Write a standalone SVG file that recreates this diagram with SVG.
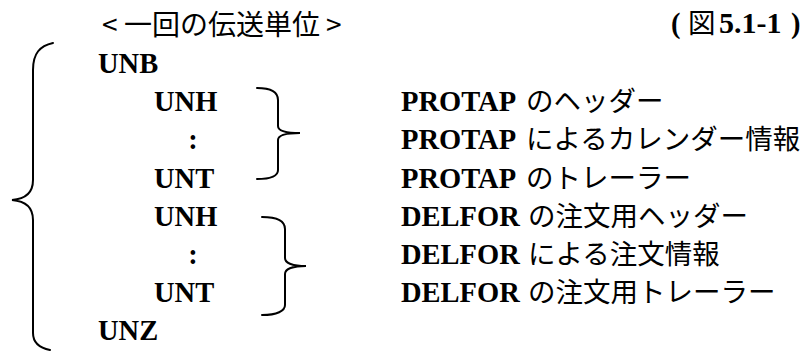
<svg xmlns="http://www.w3.org/2000/svg" width="806" height="352" viewBox="0 0 806 352">
<style>
text{fill:#000;font-size:28.5px}
.l{font-family:"Liberation Serif","Times New Roman",serif;font-weight:bold}
.j{font-family:"Noto Sans CJK JP","Noto Sans",sans-serif;font-weight:normal;font-size:27.5px}
.t{font-family:"Noto Sans CJK JP","Noto Sans",sans-serif;font-weight:normal;font-size:28px}
.b{fill:none;stroke:#000;stroke-width:2;stroke-linecap:round}
</style>
<rect width="806" height="352" fill="#fff"/>
<g id="title">
<text y="35" class="t"><tspan x="102">&lt;</tspan><tspan x="124">一回の伝送単位</tspan><tspan x="326">&gt;</tspan></text>
</g>
<g id="figno">
<text y="33" class="l"><tspan x="671">(</tspan><tspan x="688" class="j" font-size="26">図</tspan><tspan x="719" font-size="30">5.1-1</tspan><tspan x="791">)</tspan></text>
</g>
<g id="unb"><text x="98" y="72.5" class="l">UNB</text></g>
<g id="unh1"><text x="154" y="111" class="l">UNH</text></g>
<g id="dots1"><text x="193" y="149" class="l" text-anchor="middle">:</text></g>
<g id="unt1"><text x="154" y="187.5" class="l">UNT</text></g>
<g id="unh2"><text x="154" y="225.5" class="l">UNH</text></g>
<g id="dots2"><text x="193" y="263.5" class="l" text-anchor="middle">:</text></g>
<g id="unt2"><text x="154" y="301.5" class="l">UNT</text></g>
<g id="unz"><text x="98" y="340" class="l">UNZ</text></g>
<g id="p1"><text x="401" y="111" class="l">PROTAP<tspan x="526" class="j">のヘッダー</tspan></text></g>
<g id="p2"><text x="401" y="149" class="l">PROTAP<tspan x="526" class="j">によるカレンダー情報</tspan></text></g>
<g id="p3"><text x="401" y="187.5" class="l">PROTAP<tspan x="526" class="j">のトレーラー</tspan></text></g>
<g id="d1"><text x="401" y="225.5" class="l">DELFOR<tspan x="528" class="j">の注文用ヘッダー</tspan></text></g>
<g id="d2"><text x="401" y="263.5" class="l">DELFOR<tspan x="528" class="j">による注文情報</tspan></text></g>
<g id="d3"><text x="401" y="301.5" class="l">DELFOR<tspan x="528" class="j">の注文用トレーラー</tspan></text></g>
<g id="connectors">
<path class="b" d="M53,43 C40,46 33,53 33,70 L33,180 C33,193 25,199 12,200 C25,201 33,207 33,220 L33,333 C33,343 40,348 50,350"/>
<path class="b" d="M257,88 C271,88 278,92 278,100 L278,126 C278,131 286,133 300,133 C286,133 278,135 278,140 L278,170 C278,176 270,179 257,179"/>
<path class="b" d="M262,217 C277,217 285,221 285,229 L285,258 C285,263 293,266 306,266 C293,266 285,269 285,274 L285,305 C285,311 277,315 262,315"/>
</g>
</svg>
